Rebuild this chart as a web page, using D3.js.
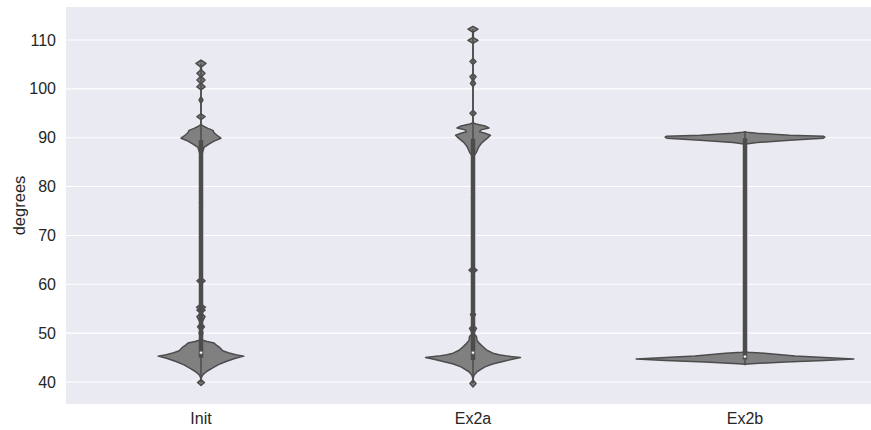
<!DOCTYPE html>
<html lang="en">
<head>
<meta charset="utf-8">
<script src="https://d3js.org/d3.v7.min.js"></script>
<style>
  body { margin: 0; padding: 0; background: #ffffff; }
  svg { display: block; }
  text { font-family: "Liberation Sans", Arial, sans-serif; fill: #262626; }
</style>
</head>
<body>
<svg id="chart" width="871" height="430"></svg>
<script>
// categories along x
const categories = ["Init", "Ex2a", "Ex2b"];

// violin outlines: [degrees, relative density]
// (density 1 = widest violin in the figure)
const initProfile = [
  [39.3, 0], [39.9, 0.032], [40.5, 0], [41.0, 0.005], [41.5, 0.018], [42.2, 0.055],
  [42.8, 0.10], [43.5, 0.156], [44.2, 0.23], [44.8, 0.31], [45.3, 0.394], [45.6, 0.32],
  [46.0, 0.25], [46.4, 0.20], [46.8, 0.183], [47.2, 0.165], [47.6, 0.138], [48.0, 0.12],
  [48.3, 0.055], [48.6, 0.01], [49.0, 0.005], [50.1, 0.018], [50.6, 0.003], [51.3, 0.032],
  [52.0, 0.003], [53.4, 0.037], [54.1, 0.005], [54.7, 0.037], [55.0, 0.02], [55.3, 0.041],
  [56.0, 0], [60.0, 0], [60.7, 0.037], [61.4, 0], [76.0, 0], [76.7, 0.014], [77.4, 0],
  [86.0, 0], [87.0, 0.014], [88.0, 0.028], [88.7, 0.073], [89.3, 0.12], [89.9, 0.183],
  [90.5, 0.147], [91.0, 0.12], [91.5, 0.11], [91.9, 0.064], [92.3, 0.028], [92.7, 0],
  [93.7, 0], [94.3, 0.037], [94.9, 0], [97.0, 0], [97.7, 0.018], [98.4, 0],
  [99.8, 0], [100.4, 0.037], [101.1, 0.005], [101.8, 0.037], [102.5, 0.005], [103.2, 0.037],
  [103.9, 0.003], [104.5, 0.005], [105.2, 0.046], [105.9, 0]
];
const ex2aProfile = [
  [39.0, 0], [39.7, 0.028], [40.4, 0], [41.0, 0.005], [41.4, 0.01], [42.1, 0.037],
  [42.6, 0.073], [43.1, 0.11], [43.7, 0.18], [44.2, 0.275], [44.6, 0.35], [45.0, 0.436],
  [45.3, 0.32], [45.6, 0.24], [45.9, 0.183], [46.5, 0.128], [47.2, 0.092], [47.8, 0.064],
  [48.5, 0.037], [49.3, 0.032], [49.8, 0.01], [50.3, 0.014], [51.0, 0.032], [51.6, 0.003],
  [53.2, 0.003], [53.8, 0.023], [54.4, 0], [62.2, 0], [62.9, 0.037], [63.6, 0],
  [77.0, 0], [77.7, 0.014], [78.4, 0], [86.0, 0], [86.9, 0.028], [88.2, 0.055],
  [89.0, 0.083], [89.5, 0.11], [90.0, 0.138], [90.5, 0.16], [90.9, 0.11], [91.2, 0.06],
  [91.6, 0.073], [92.0, 0.147], [92.4, 0.11], [92.8, 0.028], [93.1, 0], [94.4, 0],
  [95.0, 0.028], [95.6, 0], [100.5, 0], [101.1, 0.023], [101.8, 0.005], [102.5, 0.028],
  [103.1, 0], [105.0, 0], [105.6, 0.028], [106.2, 0], [109.3, 0], [109.9, 0.046],
  [110.5, 0.003], [111.6, 0.003], [112.2, 0.046], [112.8, 0]
];
const ex2bProfile = [
  [43.6, 0], [43.7, 0.02], [44.1, 0.37], [44.4, 0.73], [44.7, 1.0], [45.0, 0.73],
  [45.3, 0.46], [45.9, 0.18], [46.1, 0.03], [46.2, 0],
  [88.6, 0], [88.7, 0.01], [89.0, 0.11], [89.5, 0.41], [89.9, 0.72], [90.1, 0.734],
  [90.3, 0.72], [90.5, 0.41], [90.9, 0.11], [91.1, 0.02], [91.2, 0]
];
const profiles = [initProfile, ex2aProfile, ex2bProfile];

// inner box statistics, one value per category
const whiskerLow  = [39.9, 39.7, 43.7];
const quartile1   = [45.0, 44.5, 44.6];
const medians     = [46.0, 46.0, 45.2];
const quartile3   = [89.5, 89.8, 89.9];
const whiskerHigh = [105.2, 112.2, 91.1];

const yTicks = [40, 50, 60, 70, 80, 90, 100, 110];

const svg = d3.select("#chart");
const plotLeft = 66, plotTop = 7, plotBottom = 404;

const x = d3.scaleBand().domain(categories).range([65, 881]).padding(0);
const y = d3.scaleLinear().domain([35.5, 116.75]).range([plotBottom, plotTop]);
const w = d3.scaleLinear().domain([0, 1]).range([0, x.bandwidth() * 0.4]);

// background
svg.append("rect")
   .attr("x", plotLeft).attr("y", plotTop)
   .attr("width", 871 - plotLeft).attr("height", plotBottom - plotTop)
   .attr("fill", "#eaeaf2");

// grid
svg.append("g").selectAll("line")
   .data(yTicks).enter().append("line")
   .attr("x1", plotLeft).attr("x2", 871)
   .attr("y1", d => y(d)).attr("y2", d => y(d))
   .attr("stroke", "#ffffff").attr("stroke-width", 1.1);

// y axis
const yAxis = d3.axisLeft(y).tickValues(yTicks).tickSize(0).tickPadding(10);
const gy = svg.append("g").attr("transform", "translate(" + plotLeft + ",0)").call(yAxis);
gy.select(".domain").remove();
gy.selectAll("text").style("font-size", "16px").attr("fill", "#262626");

// x axis
const xAxis = d3.axisBottom(x).tickSize(0).tickPadding(9);
const gx = svg.append("g").attr("transform", "translate(0," + plotBottom + ")").call(xAxis);
gx.select(".domain").remove();
gx.selectAll("text").style("font-size", "16px").attr("fill", "#262626");

svg.append("text")
   .attr("transform", "translate(25," + ((plotTop + plotBottom) / 2) + ") rotate(-90)")
   .attr("text-anchor", "middle")
   .style("font-size", "16.5px")
   .text("degrees");

const edge = "#4c4c4c";

categories.forEach((c, i) => {
  const cx = x(c) + x.bandwidth() / 2;
  const area = d3.area()
    .curve(d3.curveLinear)
    .y(d => y(d[0]))
    .x0(d => cx - w(d[1]))
    .x1(d => cx + w(d[1]));

  svg.append("path")
     .datum(profiles[i])
     .attr("d", area)
     .attr("fill", "#808080")
     .attr("stroke", edge)
     .attr("stroke-width", 1.5)
     .attr("stroke-linejoin", "round");

  // whiskers
  svg.append("line")
     .attr("x1", cx).attr("x2", cx)
     .attr("y1", y(whiskerLow[i])).attr("y2", y(whiskerHigh[i]))
     .attr("stroke", edge).attr("stroke-width", 1.5);
  // box
  svg.append("line")
     .attr("x1", cx).attr("x2", cx)
     .attr("y1", y(quartile1[i])).attr("y2", y(quartile3[i]))
     .attr("stroke", edge).attr("stroke-width", 4.5);
  // median
  svg.append("circle")
     .attr("cx", cx).attr("cy", y(medians[i]))
     .attr("r", 1.6)
     .attr("fill", "#ffffff")
     .attr("stroke", edge).attr("stroke-width", 0.6);
});
</script>
</body>
</html>
